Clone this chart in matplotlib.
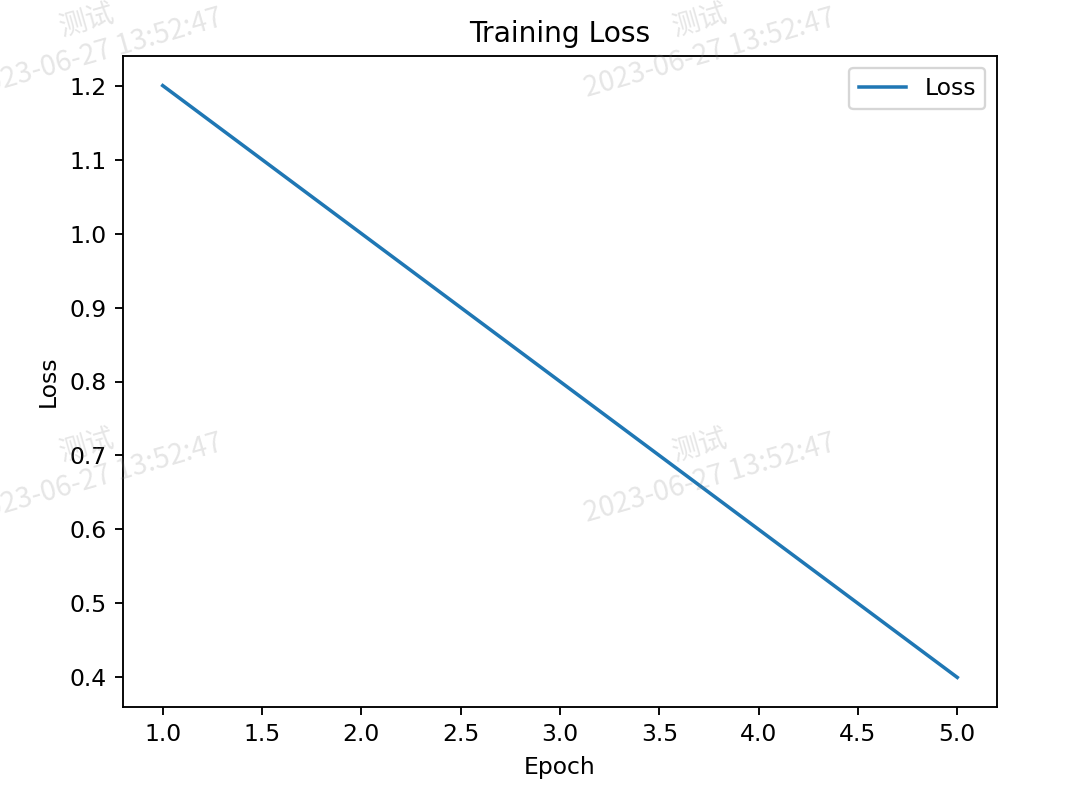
import matplotlib
matplotlib.use("Agg")
import matplotlib.pyplot as plt

epochs = [1, 2, 3, 4, 5]
losses = [1.2, 1.0, 0.8, 0.6, 0.4]
watermark = "测试\n2023-06-27 13:52:47"

W, H = 1080, 799
dpi = 168.75
fig = plt.figure(figsize=(W / dpi, H / dpi), dpi=dpi)
ax = fig.add_axes([123 / W, 1 - 707 / H, (997 - 123) / W, (707 - 56) / H])
ax.plot(epochs, losses, label="Loss")
ax.set_title("Training Loss")
ax.set_xlabel("Epoch")
ax.set_ylabel("Loss")
ax.legend()

for cx in [92, 705]:
    for cy in [37, 462]:
        fig.text(cx / W, 1 - cy / H, watermark, rotation=16,
                 ha="center", va="center", multialignment="center",
                 fontsize=12, color="gray", alpha=0.2, linespacing=1.2,
                 family=["Noto Sans CJK SC", "DejaVu Sans"],
                 rotation_mode="anchor", zorder=10)

fig.savefig("out.png", dpi=dpi)
